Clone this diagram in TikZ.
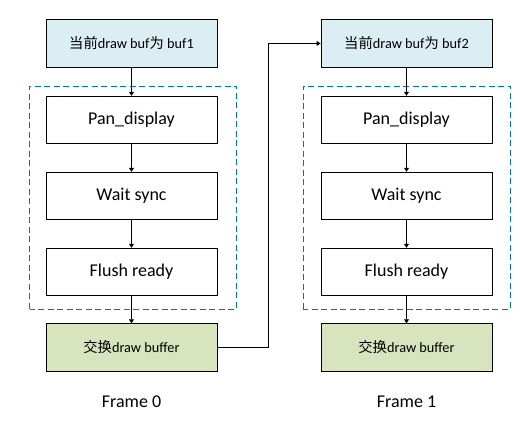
\documentclass[tikz,border=0pt]{standalone}
\usepackage{fontspec}
\setmainfont{Carlito}
\newfontfamily\cjk{Noto Sans CJK SC}
\usetikzlibrary{arrows.meta}
\definecolor{bluefill}{RGB}{219,238,244}
\definecolor{greenfill}{RGB}{215,228,189}
\definecolor{dashblue}{RGB}{0,112,192}
\tikzset{
  box/.style={draw=black, line width=0.9pt, minimum width=171pt, minimum height=47.5pt, inner sep=0pt, font=\fontsize{18}{20}\selectfont},
  bluebox/.style={box, fill=bluefill, font=\fontsize{14.3}{16}\selectfont},
  greenbox/.style={box, fill=greenfill, font=\fontsize{14.3}{16}\selectfont},
  arr/.style={draw=black, line width=0.8pt, -{Triangle[length=4pt,width=5pt]}},
  grp/.style={draw=dashblue, line width=0.9pt, dash pattern=on 6pt off 3.5pt},
  lbl/.style={font=\fontsize{18}{20}\selectfont}
}
\begin{document}
\begin{tikzpicture}[x=1pt,y=1pt]
\useasboundingbox (0,0) rectangle (520,425);
% groups
\draw[grp] (29.5,116) rectangle (236.5,339);
\draw[grp] (303,116) rectangle (510,339);
% left column
\node[bluebox] (t0) at (131.5,381.5) {{\cjk 当前}draw buf{\cjk 为} buf1};
\node[box] (p0) at (131.5,305) {Pan\_display};
\node[box] (w0) at (131.5,229) {Wait sync};
\node[box] (f0) at (131.5,153) {Flush ready};
\node[greenbox] (s0) at (131.5,77.5) {{\cjk 交换}draw buffer};
\node[lbl] (l0) at (131.5,23) {Frame 0};
% right column
\node[bluebox] (t1) at (406.5,381.5) {{\cjk 当前}draw buf{\cjk 为} buf2};
\node[box] (p1) at (406.5,305) {Pan\_display};
\node[box] (w1) at (406.5,229) {Wait sync};
\node[box] (f1) at (406.5,153) {Flush ready};
\node[greenbox] (s1) at (406.5,77.5) {{\cjk 交换}draw buffer};
\node[lbl] (l1) at (406.5,23) {Frame 1};
% connectors
\draw[arr] (t0) -- (p0);
\draw[arr] (p0) -- (w0);
\draw[arr] (w0) -- (f0);
\draw[arr] (f0) -- (s0);
\draw[arr] (t1) -- (p1);
\draw[arr] (p1) -- (w1);
\draw[arr] (w1) -- (f1);
\draw[arr] (f1) -- (s1);
\coordinate (mid) at (268,0);
\draw[arr] (s0.east) -- (s0.east -| mid) |- (t1.west);
\end{tikzpicture}
\end{document}
